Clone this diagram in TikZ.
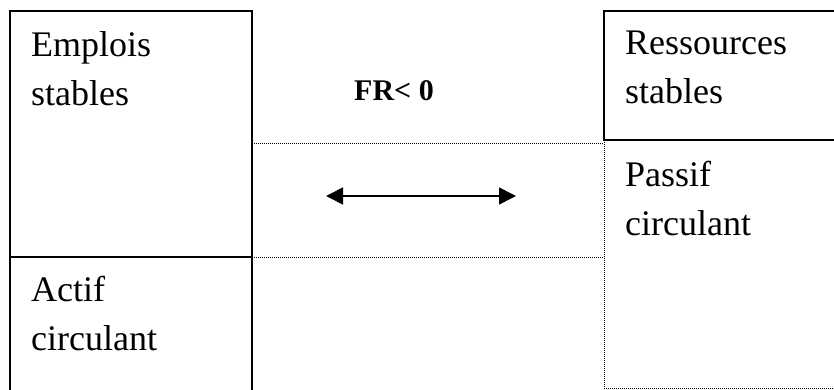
\documentclass[tikz,border=0pt]{standalone}
\usepackage{fontspec}
\setmainfont{Liberation Serif}
\usetikzlibrary{arrows.meta}
\begin{document}
\begin{tikzpicture}[x=1pt, y=-1pt,
    boite/.style = {line width=1.6pt},
    pointille/.style = {line width=0.9pt, dash pattern=on 1pt off 1pt},
    libelle/.style = {anchor=base west, inner sep=0pt, align=left,
      font=\fontsize{36}{49}\selectfont},
    fleche/.style = {line width=1.6pt, {Triangle[length=17pt,width=17pt]}-{Triangle[length=17pt,width=17pt]}}]
    \clip (0,0) rectangle (834,390);
    % bilan : emplois a gauche
    \draw[boite] (10,395) -- (10,11) -- (252,11) -- (252,395);
    \draw[boite] (10,257) -- (252,257);
    % ressources a droite
    \draw[boite] (840,140) -- (604,140) -- (604,11) -- (840,11);
    \draw[pointille] (604,140) -- (604,388) -- (840,388);
    \draw[pointille] (252,143) -- (604,143);
    \draw[pointille] (252,257) -- (604,257);
    \node[libelle] (es) at (31,106) {Emplois\\stables};
    \node[libelle] (ac) at (31,350) {Actif\\circulant};
    \node[libelle] (rs) at (625,104) {Ressources\\stables};
    \node[libelle] (pc) at (625,235) {Passif\\circulant};
    \node[anchor=base, inner sep=0pt, font=\fontsize{30}{36}\selectfont\bfseries] (fr) at (394,101) {FR< 0};
    \coordinate (g) at (326,196);
    \coordinate (d) at (516,196);
    \draw[fleche] (g) -- (d);
\end{tikzpicture}
\end{document}
